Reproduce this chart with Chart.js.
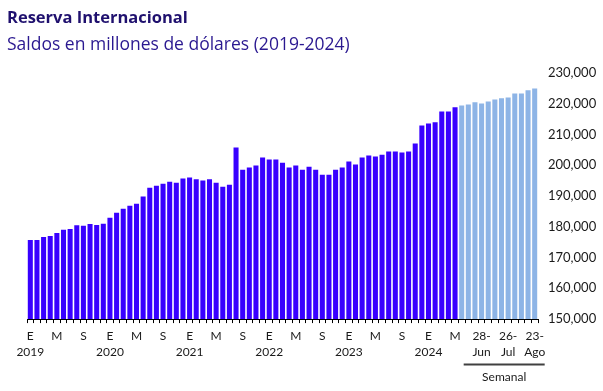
<!DOCTYPE html>
<html>
<head>
<meta charset="utf-8">
<script src="https://cdn.jsdelivr.net/npm/chart.js@4/dist/chart.umd.min.js"></script>
<style>
  html, body { margin: 0; padding: 0; background: #fff; }
  #wrap { width: 603px; height: 391px; }
</style>
</head>
<body>
<div id="wrap"><canvas id="chart"></canvas></div>
<script>
// monthly balances, Jan 2019 - May 2024 (millions of USD)
const years = [2019, 2020, 2021, 2022, 2023, 2024];
const monthLetters = ['E', 'F', 'M', 'A', 'M', 'J', 'J', 'A', 'S', 'O', 'N', 'D'];
const monthlyValues = [
  175700, 175700, 176700, 177000, 178000, 179000, 179300, 180500, 180300, 180900, 180600, 181000,
  182900, 184500, 185800, 186800, 187500, 189800, 192700, 193300, 194000, 194600, 194300, 195700,
  196000, 195400, 195000, 195400, 194300, 193000, 193600, 205700, 198500, 199200, 199900, 202500,
  201800, 201800, 200800, 199200, 199900, 198500, 199500, 198500, 196900, 196900, 198500, 199200,
  201200, 200200, 202500, 203100, 202800, 203400, 204400, 204400, 204100, 204400, 207000, 212900,
  213500, 213900, 217400, 217400, 218800
];
// weekly balances, Jun - Aug 2024
const weeklyDates = [
  ['7-', 'Jun'], ['14-', 'Jun'], ['21-', 'Jun'], ['28-', 'Jun'],
  ['5-', 'Jul'], ['12-', 'Jul'], ['19-', 'Jul'], ['26-', 'Jul'],
  ['2-', 'Ago'], ['9-', 'Ago'], ['16-', 'Ago'], ['23-', 'Ago']
];
const weeklyValues = [219400, 219700, 220400, 220000, 220700, 221300, 221700, 222000, 223300, 223300, 224300, 224900];
const weeklyShown = [3, 7, 11];
const yTicks = [150000, 160000, 170000, 180000, 190000, 200000, 210000, 220000, 230000];

const monthlyLabels = monthlyValues.map((v, i) => {
  const m = i % 12;
  if (m === 0) return [monthLetters[m], String(years[Math.floor(i / 12)])];
  if (m === 4 || m === 8) return monthLetters[m];
  return '';
});
const weeklyLabels = weeklyDates.map((d, i) => weeklyShown.includes(i) ? d : '');
const labels = monthlyLabels.concat(weeklyLabels);
const values = monthlyValues.concat(weeklyValues);
const colors = values.map((v, i) => i < monthlyValues.length ? 'rgb(56,0,255)' : 'rgb(141,180,230)');

const fontFamily = "Lato, 'Open Sans', sans-serif";
const titleFamily = "'Open Sans', sans-serif";

// "Semanal" bracket under the weekly ticks
const semanalPlugin = {
  id: 'semanal',
  afterDraw(chart) {
    const x = chart.scales.x;
    const ctx = chart.ctx;
    const x1 = x.getPixelForValue(monthlyValues.length) + 2;
    const x2 = x.getPixelForValue(values.length - 1) + 10;
    ctx.save();
    ctx.strokeStyle = '#404040';
    ctx.lineWidth = 2;
    ctx.beginPath();
    ctx.moveTo(x1, 364.5);
    ctx.lineTo(x2, 364.5);
    ctx.stroke();
    ctx.fillStyle = '#1a1a1a';
    ctx.font = '12px ' + fontFamily;
    ctx.textAlign = 'center';
    ctx.textBaseline = 'middle';
    ctx.fillText('Semanal', (x1 + x2) / 2, 377);
    ctx.restore();
  }
};

new Chart(document.getElementById('chart'), {
  type: 'bar',
  data: {
    labels: labels,
    datasets: [{
      data: values,
      yAxisID: 'y',
      xAxisID: 'x',
      backgroundColor: colors,
      categoryPercentage: 1,
      barPercentage: 0.76
    }]
  },
  options: {
    responsive: true,
    maintainAspectRatio: false,
    animation: false,
    layout: { padding: { left: 7, right: 0, top: 0, bottom: 26 } },
    plugins: {
      legend: { display: false },
      tooltip: { enabled: false },
      title: {
        display: true,
        text: 'Reserva Internacional',
        align: 'start',
        color: '#1f106e',
        font: { family: titleFamily, size: 16.5, weight: 'bold' },
        padding: { top: 8, bottom: 7 }
      },
      subtitle: {
        display: true,
        text: 'Saldos en millones de dólares (2019-2024)',
        align: 'start',
        color: '#2a1890',
        font: { family: titleFamily, size: 17.5 },
        padding: { top: 0, bottom: 17 }
      }
    },
    scales: {
      x: {
        grid: { display: true, drawOnChartArea: false, tickLength: 4, color: '#000' },
        border: { display: true, color: '#000', width: 1 },
        ticks: {
          autoSkip: false,
          maxRotation: 0,
          padding: 5,
          color: '#1a1a1a',
          font: { family: fontFamily, size: 12, lineHeight: 1.33 }
        }
      },
      pad: {
        type: 'linear',
        position: 'left',
        grid: { display: false },
        border: { display: false },
        ticks: { display: false },
        afterFit(s) { s.width = 20; }
      },
      y: {
        position: 'right',
        min: yTicks[0],
        max: yTicks[yTicks.length - 1],
        grid: { display: false, drawTicks: false },
        border: { display: false },
        afterBuildTicks(s) { s.ticks = yTicks.map(v => ({ value: v })); },
        afterFit(s) { s.width = 65; },
        ticks: {
          padding: 10,
          color: '#1a1a1a',
          font: { family: fontFamily, size: 13 },
          callback: v => v.toLocaleString('en-US')
        }
      }
    }
  },
  plugins: [semanalPlugin]
});
</script>
</body>
</html>
